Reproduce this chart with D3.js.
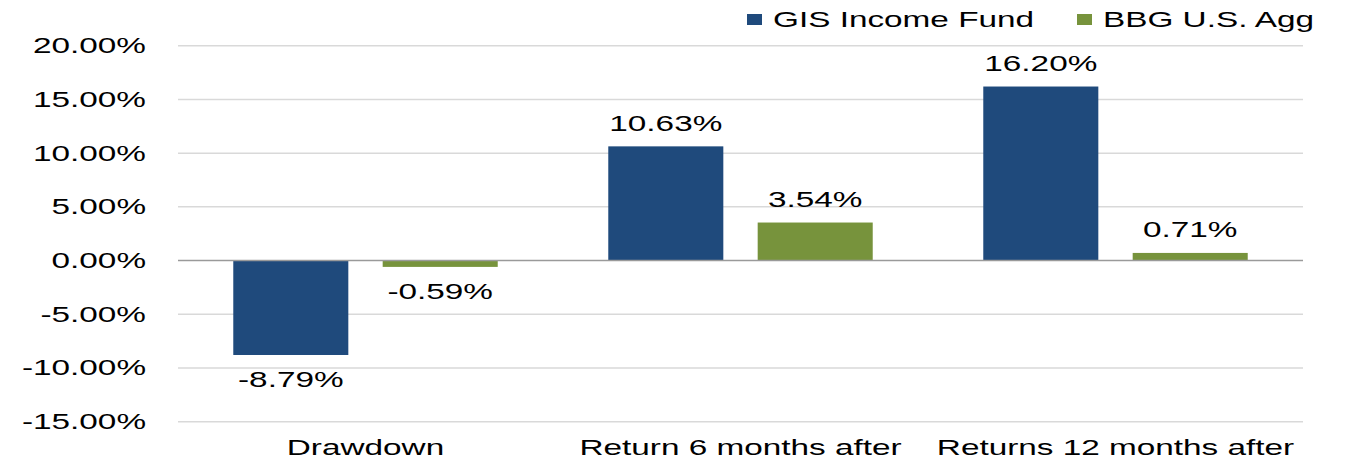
<!DOCTYPE html>
<html>
<head>
<meta charset="utf-8">
<script src="https://cdn.jsdelivr.net/npm/d3@7/dist/d3.min.js"></script>
<style>
  body { margin: 0; background: #fff; }
  text { font-family: "Liberation Sans", Arial, sans-serif; fill: #000; }
</style>
</head>
<body>
<svg id="chart" width="1351" height="463"></svg>
<script>
const categories = ["Drawdown", "Return 6 months after", "Returns 12 months after"]
const seriesNames = ["GIS Income Fund", "BBG U.S. Agg"]
const gisValues = [-8.79, 10.63, 16.20]
const aggValues = [-0.59, 3.54, 0.71]
const yTicks = [20, 15, 10, 5, 0, -5, -10, -15]
const colors = ["#1F4A7C", "#77933C"]

// text in the original is stretched wide, so every label gets a horizontal scale
const SX = 1.55
const FS = 21.5

const svg = d3.select("#chart")
const plotLeft = 178, plotRight = 1303, plotTop = 45.7, plotBottom = 421.7

const y = d3.scaleLinear().domain([-15, 20]).range([plotBottom, plotTop])
const x0 = d3.scaleBand().domain(categories).range([plotLeft, plotRight])
const x1 = d3.scaleBand().domain(seriesNames).range([0, x0.bandwidth()])
    .paddingInner(0.23).paddingOuter(0.37)

function label(g, x, yy, txt, anchor) {
    g.append("text")
        .attr("transform", "translate(" + x + "," + yy + ") scale(" + SX + ",1)")
        .attr("text-anchor", anchor)
        .style("font-size", FS + "px")
        .text(txt)
}

// gridlines
svg.append("g").selectAll("line")
    .data(yTicks.filter(t => t != 0))
    .join("line")
    .attr("x1", plotLeft).attr("x2", plotRight)
    .attr("y1", d => y(d)).attr("y2", d => y(d))
    .attr("stroke", "#D9D9D9").attr("stroke-width", 1.5)

// y tick labels
const axisG = svg.append("g")
yTicks.forEach(t => label(axisG, 146, y(t) + 7.5, t.toFixed(2) + "%", "end"))

// bars
const data = categories.map((c, i) => ({ cat: c, vals: [gisValues[i], aggValues[i]] }))
const barG = svg.append("g")
data.forEach(d => {
    d.vals.forEach((v, j) => {
        var bx = x0(d.cat) + x1(seriesNames[j])
        barG.append("rect")
            .attr("x", bx)
            .attr("width", x1.bandwidth())
            .attr("y", Math.min(y(v), y(0)))
            .attr("height", Math.abs(y(v) - y(0)))
            .attr("fill", colors[j])
        var ly = v >= 0 ? y(v) - 15.5 : y(v) + 32
        label(barG, bx + x1.bandwidth() / 2, ly, v.toFixed(2) + "%", "middle")
    })
})

// zero line
svg.append("line")
    .attr("x1", plotLeft).attr("x2", plotRight)
    .attr("y1", y(0)).attr("y2", y(0))
    .attr("stroke", "#9A9A9A").attr("stroke-width", 1.5)

// category labels
const catG = svg.append("g")
categories.forEach(c => label(catG, x0(c) + x0.bandwidth() / 2, 455, c, "middle"))

// legend
const legend = svg.append("g")
const legendX = [747, 1077]
seriesNames.forEach((s, j) => {
    legend.append("rect")
        .attr("x", legendX[j]).attr("y", 14)
        .attr("width", 15).attr("height", 11)
        .attr("fill", colors[j])
    label(legend, legendX[j] + 26, 26.5, s, "start")
})
</script>
</body>
</html>
